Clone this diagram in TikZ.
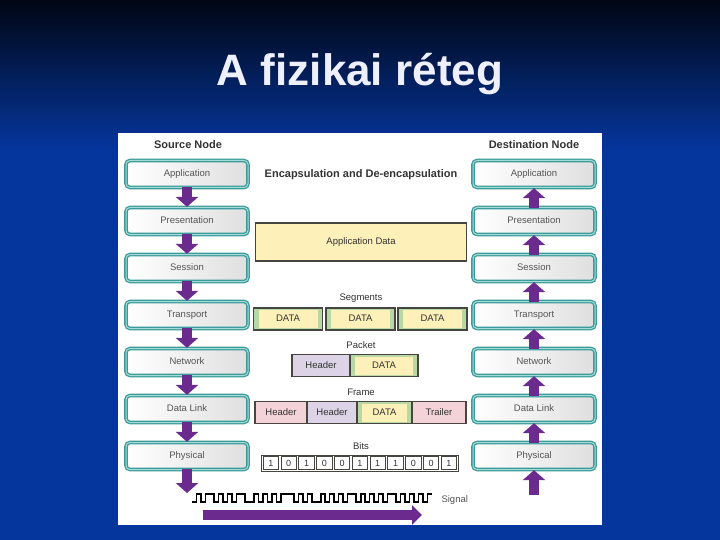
\documentclass[tikz,border=0pt]{standalone}
\usepackage{fontspec}
\setmainfont{Liberation Sans}
\usetikzlibrary{arrows.meta,positioning}
\definecolor{bgtop}{HTML}{010614}
\definecolor{bgblue}{HTML}{05369E}
\definecolor{titlewhite}{HTML}{EEF0FF}
\definecolor{layerteal}{HTML}{3A9C9A}
\definecolor{layerlight}{HTML}{A8DAD6}
\definecolor{labelgray}{HTML}{555555}
\definecolor{headgray}{HTML}{333333}
\definecolor{blockgray}{HTML}{474540}
\definecolor{datayellow}{HTML}{FDF0B8}
\definecolor{datagreen}{HTML}{B9D6A5}
\definecolor{headpurple}{HTML}{DCD3E6}
\definecolor{headpink}{HTML}{F3D3D8}
\definecolor{arrowpurple}{HTML}{6B2B8E}
\tikzset{
	node distance=47pt,
	layer/.style = {draw=layerteal, double=layerlight, double distance=1pt,
		line width=1.3pt, rounded corners=4pt, left color=white, right color=gray!25,
		minimum width=122pt, minimum height=27pt, text height=7pt, text depth=2pt,
		font=\fontsize{9.5}{11}\selectfont, text=labelgray},
	layerarrow/.style = {draw=arrowpurple, line width=10pt, shorten <=-1.5pt,
		-{Triangle[width=22pt,length=10pt]}},
	heading/.style = {anchor=base, font=\fontsize{11}{13}\selectfont\bfseries, text=headgray},
	caption/.style = {anchor=base, font=\fontsize{9.5}{11}\selectfont, text=headgray},
	block/.style = {draw=blockgray, line width=1.1pt, inner sep=0pt, outer sep=0pt, minimum height=22pt,
		text height=7pt, text depth=2pt, font=\fontsize{9.5}{11}\selectfont, text=headgray},
	datablock/.style = {block, fill=datagreen, path picture={
		\fill[datayellow] ([xshift=5pt,yshift=2pt]path picture bounding box.south west)
			rectangle ([xshift=-5pt,yshift=-2pt]path picture bounding box.north east);}},
	bitcell/.style = {draw=blockgray, line width=0.8pt, fill=white, inner sep=0pt,
		minimum width=15.5pt, minimum height=13pt, font=\fontsize{9}{10}\selectfont, text=headgray}
}
\begin{document}
\begin{tikzpicture}[x=1pt,y=-1pt]
	\useasboundingbox (0,0) rectangle (720,540);
	% background and slide title
	\fill[bgblue] (0,0) rectangle (720,540);
	\shade[top color=bgtop, bottom color=bgblue] (0,0) rectangle (720,150);
	\node[anchor=base, font=\fontsize{44}{50}\selectfont\bfseries, text=titlewhite] (title) at (360,86) {A fizikai réteg};
	\fill[white] (118,133) rectangle (602,525);

	% source stack
	\node[heading] (srclabel) at (188,149) {Source Node};
	\node[layer] (sapp) at (187,174) {Application};
	\node[layer] (spres) [below of=sapp] {Presentation};
	\node[layer] (ssess) [below of=spres] {Session};
	\node[layer] (strans) [below of=ssess] {Transport};
	\node[layer] (snet) [below of=strans] {Network};
	\node[layer] (slink) [below of=snet] {Data Link};
	\node[layer] (sphys) [below of=slink] {Physical};
	\coordinate (sout) at (187,493);

	% destination stack
	\node[heading] (dstlabel) at (534,149) {Destination Node};
	\node[layer] (dapp) at (534,174) {Application};
	\node[layer] (dpres) [below of=dapp] {Presentation};
	\node[layer] (dsess) [below of=dpres] {Session};
	\node[layer] (dtrans) [below of=dsess] {Transport};
	\node[layer] (dnet) [below of=dtrans] {Network};
	\node[layer] (dlink) [below of=dnet] {Data Link};
	\node[layer] (dphys) [below of=dlink] {Physical};
	\coordinate (din) at (534,493);

	% PDUs
	\node[heading] (encap) at (361,178) {Encapsulation and De-encapsulation};
	\node[block, fill=datayellow, line width=1.5pt, minimum width=211pt, minimum height=38pt] (appdata) at (361,242) {Application Data};

	\node[caption] (seglabel) at (361,300) {Segments};
	\node[datablock, minimum width=69pt] (seg1) at (288,319) {DATA};
	\node[datablock, minimum width=69pt] (seg2) at (360.5,319) {DATA};
	\node[datablock, minimum width=69pt] (seg3) at (432.5,319) {DATA};

	\node[caption] (pktlabel) at (361,348) {Packet};
	\node[block, fill=headpurple, minimum width=58pt] (pkthead) at (321,365.5) {Header};
	\node[datablock, minimum width=68pt] (pktdata) [right=0pt of pkthead] {DATA};

	\node[caption] (frmlabel) at (361,395) {Frame};
	\node[block, fill=headpink, minimum width=52pt] (frmhead1) at (281,412.5) {Header};
	\node[block, fill=headpurple, minimum width=50pt] (frmhead2) [right=0pt of frmhead1] {Header};
	\node[datablock, minimum width=55pt] (frmdata) [right=0pt of frmhead2] {DATA};
	\node[block, fill=headpink, minimum width=54pt] (frmtrail) [right=0pt of frmdata] {Trailer};

	\node[caption] (bitlabel) at (361,449) {Bits};
	\draw[blockgray, line width=0.8pt] (261,455) rectangle (458,471);
	\foreach \b [count=\i from 0] in {1,0,1,0,0,1,1,1,0,0,1}
		\node[bitcell] (bit\i) at ({270.9+17.8*\i},463) {\b};

	% signal on the medium
	\draw[black, line width=1.6pt] (192,502)
		foreach \v [count=\i from 0] in {0,1,0,1,1,0,1,0,1,0,1,1,0,0,1,0,1,0,1,0,1,1,1,0,1,0,1,0,0,1,0,1,0,1,0,1,1,0,1,0,1,0,1,0,1,1,0,1,0,1,0,1,0,1}
		{ -- ({192+4.44*\i},{502-8*\v}) -- ({192+4.44*(\i+1)},{502-8*\v}) };
	\node[anchor=west, font=\fontsize{9.5}{11}\selectfont, text=labelgray] (siglabel) at (438,500) {Signal};
	\coordinate (sigstart) at (203,515);
	\coordinate (sigend) at (422,515);

	% arrows
	\draw[layerarrow] (sapp) -- (spres);
	\draw[layerarrow] (spres) -- (ssess);
	\draw[layerarrow] (ssess) -- (strans);
	\draw[layerarrow] (strans) -- (snet);
	\draw[layerarrow] (snet) -- (slink);
	\draw[layerarrow] (slink) -- (sphys);
	\draw[layerarrow] (sphys) -- (sout);
	\draw[layerarrow] (din) -- (dphys);
	\draw[layerarrow] (dphys) -- (dlink);
	\draw[layerarrow] (dlink) -- (dnet);
	\draw[layerarrow] (dnet) -- (dtrans);
	\draw[layerarrow] (dtrans) -- (dsess);
	\draw[layerarrow] (dsess) -- (dpres);
	\draw[layerarrow] (dpres) -- (dapp);
	\draw[layerarrow, shorten <=0pt, -{Triangle[width=19pt,length=10pt]}] (sigstart) -- (sigend);
\end{tikzpicture}
\end{document}
